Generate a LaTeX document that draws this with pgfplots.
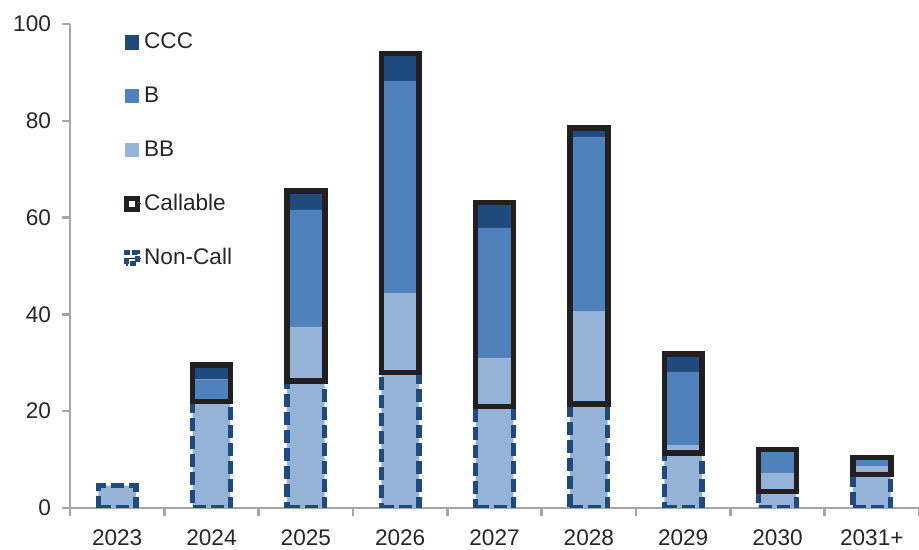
\documentclass[border=0pt]{standalone}
\usepackage{fontspec}
\setmainfont{Liberation Sans}
\usepackage{pgfplots}
\pgfplotsset{compat=1.18}
\definecolor{cBB}{HTML}{95B3D7}
\definecolor{cB}{HTML}{4F81BD}
\definecolor{cCCC}{HTML}{1F4A7E}
\definecolor{cAx}{HTML}{A6A6A6}
\definecolor{cTxt}{HTML}{262626}
\definecolor{cCall}{HTML}{231F20}
\pgfplotsset{
  base/.style={scale only axis, width=424.5pt, height=242pt,
    xmin=-0.5, xmax=8.5, ymin=0, ymax=100, bar width=0.40, ybar stacked},
}
\begin{document}
\begin{tikzpicture}[font=\fontsize{11.3}{13.5}\selectfont]
\path[use as bounding box] (-35pt,-21pt) rectangle (424.5pt,254pt);
\begin{axis}[base,
  axis x line=bottom, axis y line=left,
  axis line style={cAx, line width=1.2pt, -},
  tick style={cAx, line width=1.2pt}, major tick length=4pt, tick align=outside,
  ytick={0,20,...,100},
  /pgf/number format/assume math mode=true,
  yticklabel style={xshift=-2pt, text=cTxt},
  xtick={-0.5,0.5,1.5,2.5,3.5,4.5,5.5,6.5,7.5,8.5}, xticklabels={},
  extra x ticks={0,1,2,3,4,5,6,7,8},
  extra x tick labels={2023,2024,2025,2026,2027,2028,2029,2030,2031+},
  extra x tick style={major tick length=0pt, tick style={draw=none},
     xticklabel style={yshift=-7.5pt, text=cTxt}},
  legend style={draw=none, fill=none, at={(0.056,0.995)}, anchor=north west,
     row sep=15.1pt, nodes={inner sep=1.2pt, text=cTxt}, cells={anchor=west}},
  reverse legend,
]
\addlegendimage{legend image code/.code={\path (0pt,0pt) -- (8.4pt,0pt);\draw[cCCC, line width=2.4pt, dash pattern=on 3pt off 1.2pt] (0.9pt,-2.7pt) rectangle (6.3pt,2.7pt);}}
\addlegendentry{Non-Call}
\addlegendimage{legend image code/.code={\path (0pt,0pt) -- (8.4pt,0pt);\draw[cCall, line width=2.4pt, fill=white] (0.9pt,-2.7pt) rectangle (6.3pt,2.7pt);}}
\addlegendentry{Callable}
\addplot[fill=cBB, draw=none, legend image code/.code={\path (0pt,0pt) -- (8.4pt,0pt);\fill[cBB] (0pt,-3.6pt) rectangle (7.2pt,3.6pt);}]
  coordinates {(0,4.6) (1,22) (2,37.4) (3,44.4) (4,31) (5,40.7) (6,13) (7,7.2) (8,8.7)};
\addlegendentry{BB}
\addplot[fill=cB, draw=none, legend image code/.code={\path (0pt,0pt) -- (8.4pt,0pt);\fill[cB] (0pt,-3.6pt) rectangle (7.2pt,3.6pt);}]
  coordinates {(0,0) (1,4.6) (2,24.2) (3,43.8) (4,26.9) (5,36) (6,15.1) (7,4.4) (8,1.3)};
\addlegendentry{B}
\addplot[fill=cCCC, draw=none, legend image code/.code={\path (0pt,0pt) -- (8.4pt,0pt);\fill[cCCC] (0pt,-3.6pt) rectangle (7.2pt,3.6pt);}]
  coordinates {(0,0) (1,2.9) (2,3.9) (3,5.7) (4,5.2) (5,1.8) (6,3.7) (7,0.5) (8,0.4)};
\addlegendentry{CCC}
\end{axis}
% Non-Call outlines
\begin{axis}[base, hide axis]
\addplot[fill=none, draw=cCCC, line width=2.6pt, dash pattern=on 6.5pt off 2.5pt]
  coordinates {(0,4.6) (1,22) (2,26.3) (3,28) (4,21) (5,21.5) (6,11.4) (7,3.4) (8,6.9)};
\end{axis}
% Callable outlines
\begin{axis}[base, hide axis]
\addplot[fill=none, draw=none]
  coordinates {(1,22) (2,26.3) (3,28) (4,21) (5,21.5) (6,11.4) (7,3.4) (8,6.9)};
\addplot[fill=none, draw=cCall, line width=2.8pt]
  coordinates {(1,7.5) (2,39.2) (3,65.9) (4,42.1) (5,57) (6,20.4) (7,8.7) (8,3.5)};
\end{axis}
\end{tikzpicture}
\end{document}
